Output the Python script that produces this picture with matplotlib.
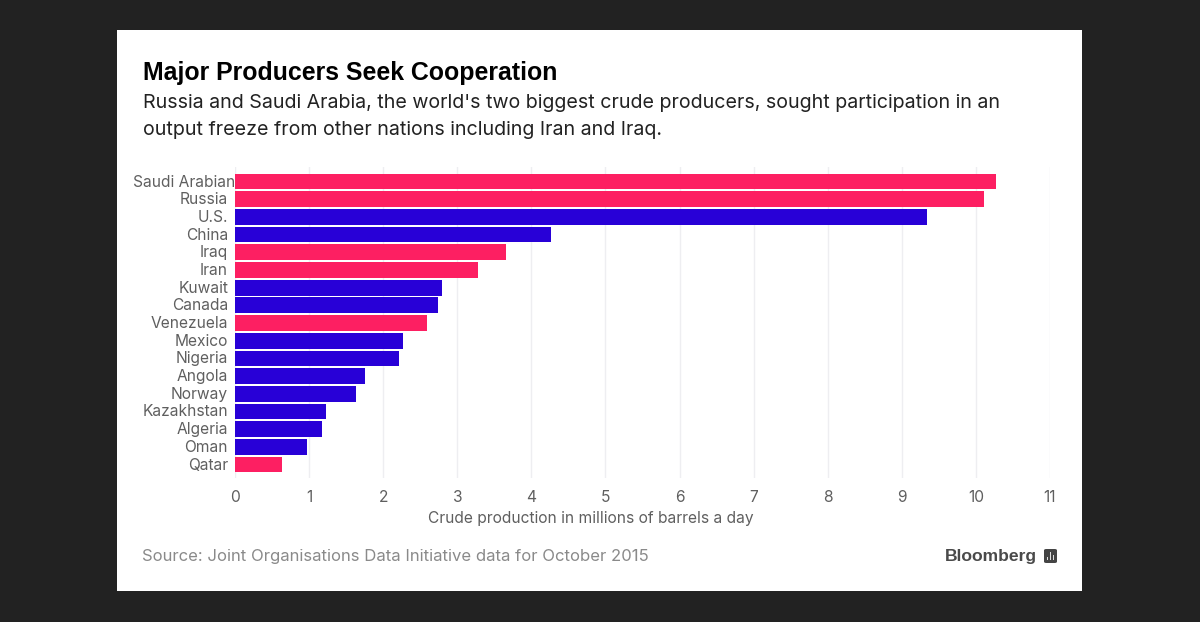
import matplotlib
matplotlib.use("Agg")
import matplotlib.pyplot as plt
from matplotlib.patches import Rectangle, FancyBboxPatch
from matplotlib.transforms import ScaledTranslation

W, H = 1200, 622

countries = ["Saudi Arabian", "Russia", "U.S.", "China", "Iraq", "Iran", "Kuwait", "Canada",
             "Venezuela", "Mexico", "Nigeria", "Angola", "Norway", "Kazakhstan", "Algeria",
             "Oman", "Qatar"]
production = [10.27, 10.11, 9.34, 4.26, 3.66, 3.28, 2.79, 2.74, 2.59, 2.27, 2.22, 1.75, 1.63,
              1.23, 1.18, 0.97, 0.63]
in_talks = [1, 1, 0, 0, 1, 1, 0, 0, 1, 0, 0, 0, 0, 0, 0, 0, 1]
xticks = list(range(12))

PINK = "#fd1f62"
BLUE = "#2800d7"

plt.rcParams['font.family'] = ['Inter', 'DejaVu Sans']

fig = plt.figure(figsize=(W / 100, H / 100), dpi=100, facecolor="#222222")


def fx(px):
    return px / W


def fy(py):
    return 1 - py / H


# white card
fig.patches.append(Rectangle((fx(117), fy(591)), 965 / W, 561 / H, transform=fig.transFigure,
                             facecolor="white", edgecolor="none"))

ax = fig.add_axes([fx(235), fy(478), 815 / W, 311 / H], facecolor="none")
ax.set_zorder(5)
colors = [PINK if t else BLUE for t in in_talks]
ax.barh(range(len(countries)), production, height=0.89, color=colors, zorder=3)
ax.set_xlim(0, 11)
ax.set_ylim(16.76, -0.82)
ax.set_xticks(xticks)
ax.set_yticks(range(len(countries)))
ax.set_yticklabels(countries)
ax.grid(axis="x", color="#eeeef1", lw=1, zorder=0)
ax.tick_params(axis="both", length=0, labelcolor="#5f5f5f", labelsize=11.2)
ax.tick_params(axis="y", pad=5)
ax.tick_params(axis="x", pad=8.5)
for s in ax.spines.values():
    s.set_visible(False)

# labels sit 1px higher, and the longest one runs up to the bars as in the original
for i, lab in enumerate(ax.get_yticklabels()):
    dx = 7 if i == 0 else 0
    lab.set_transform(lab.get_transform() + ScaledTranslation(dx / 100, 1 / 100, fig.dpi_scale_trans))

ax.set_xlabel("Crude production in millions of barrels a day", color="#5f5f5f", fontsize=11.2)
ax.xaxis.set_label_coords((591 - 235) / 815, (478 - 518) / 311, transform=ax.transAxes)
ax.xaxis.label.set_verticalalignment("center")

fig.text(fx(143), fy(73), "Major Producers Seek Cooperation", fontsize=17.9, fontweight="bold",
         color="black", va="center", family=["Liberation Sans"])
fig.text(fx(143), fy(103), "Russia and Saudi Arabia, the world's two biggest crude producers, sought participation in an",
         fontsize=14.14, color="#222222", va="center")
fig.text(fx(143), fy(130), "output freeze from other nations including Iran and Iraq.",
         fontsize=14.14, color="#222222", va="center")
fig.text(fx(142), fy(556), "Source: Joint Organisations Data Initiative data for October 2015",
         fontsize=12, color="#8a8a8a", va="center")
fig.text(fx(1037), fy(556), "Bloomberg", fontsize=12.6, fontweight="bold", color="#4a4a4a",
         va="center", ha="right", family=["Liberation Sans"])

# logo icon
fig.patches.append(FancyBboxPatch((fx(1044), fy(563)), 13 / W, 14 / H, transform=fig.transFigure,
                                  boxstyle="round,pad=0,rounding_size=0.002", facecolor="#444444",
                                  edgecolor="none"))
for px, top in [(1047, 557), (1050, 552), (1053, 555)]:
    fig.patches.append(Rectangle((fx(px), fy(560)), 1.4 / W, (560 - top) / H,
                                 transform=fig.transFigure, facecolor="#dddddd", edgecolor="none"))

fig.savefig("out.png", dpi=100, facecolor=fig.get_facecolor())
